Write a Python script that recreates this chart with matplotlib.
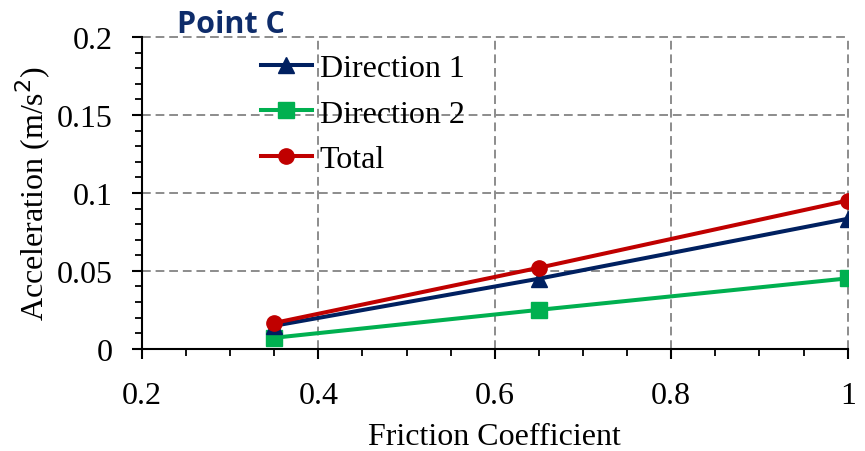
import matplotlib
matplotlib.use("Agg")
import matplotlib.pyplot as plt
from matplotlib.ticker import MultipleLocator

# Friction coefficient vs. acceleration at point C
friction = [0.35, 0.65, 1.0]
direction_1 = [0.0148, 0.0450, 0.0834]
direction_2 = [0.0071, 0.0250, 0.0452]
total = [0.0166, 0.0520, 0.0951]

series_labels = ["Direction 1", "Direction 2", "Total"]
x_ticks = [0.2, 0.4, 0.6, 0.8, 1.0]
x_tick_labels = ["0.2", "0.4", "0.6", "0.8", "1"]
y_ticks = [0, 0.05, 0.1, 0.15, 0.2]
y_tick_labels = ["0", "0.05", "0.1", "0.15", "0.2"]

plt.rcParams["font.family"] = ["Liberation Serif", "DejaVu Serif"]
FS = 23

fig = plt.figure(figsize=(8.65, 4.52), dpi=100)
ax = fig.add_axes([0.164, 0.226, 0.816, 0.690])

ax.plot(friction, direction_1, color="#002060", lw=2.9, marker="^", ms=11.5,
        label=series_labels[0], zorder=4)
ax.plot(friction, direction_2, color="#00B050", lw=2.9, marker="s", ms=11,
        label=series_labels[1], zorder=3)
ax.plot(friction, total, color="#C00000", lw=2.9, marker="o", ms=11,
        label=series_labels[2], zorder=5)

ax.set_xlim(0.2, 1.0)
ax.set_ylim(0, 0.2)
ax.set_xticks(x_ticks)
ax.set_xticklabels(x_tick_labels)
ax.set_yticks(y_ticks)
ax.set_yticklabels(y_tick_labels)
ax.xaxis.set_minor_locator(MultipleLocator(0.05))
ax.yaxis.set_minor_locator(MultipleLocator(0.01))

ax.tick_params(axis="both", which="major", direction="out", length=7,
               width=1.5, labelsize=FS, color="black")
ax.tick_params(axis="x", which="major", pad=16)
ax.tick_params(axis="y", which="major", pad=14)
ax.tick_params(axis="both", which="minor", direction="out", length=5,
               width=1.3, color="black")

for side in ("top", "right"):
    ax.spines[side].set_visible(False)
for side in ("left", "bottom"):
    ax.spines[side].set_linewidth(1.5)
    ax.spines[side].set_color("black")

ax.grid(True, which="major", linestyle=(0, (4.5, 2.5)), color="#8C8C8C", lw=1.4)
ax.set_axisbelow(True)
for line in ax.get_xgridlines() + ax.get_ygridlines():
    line.set_clip_on(False)

ax.set_xlabel("Friction Coefficient", fontsize=FS, labelpad=8.5)
ax.set_ylabel("Acceleration (m/s$^2$)", fontsize=FS, labelpad=3)

leg = ax.legend(loc="upper left", bbox_to_anchor=(0.150, 0.988), frameon=False,
                fontsize=FS, handlelength=1.6, handletextpad=0.25,
                labelspacing=0.51, borderaxespad=0)

fig.text(177 / 865, 1 - 33 / 452, "Point C", family=["Open Sans", "DejaVu Sans"],
         fontweight="bold", fontsize=22, color="#0E2C6A", va="baseline",
         ha="left")

fig.savefig("out.png", dpi=100)
